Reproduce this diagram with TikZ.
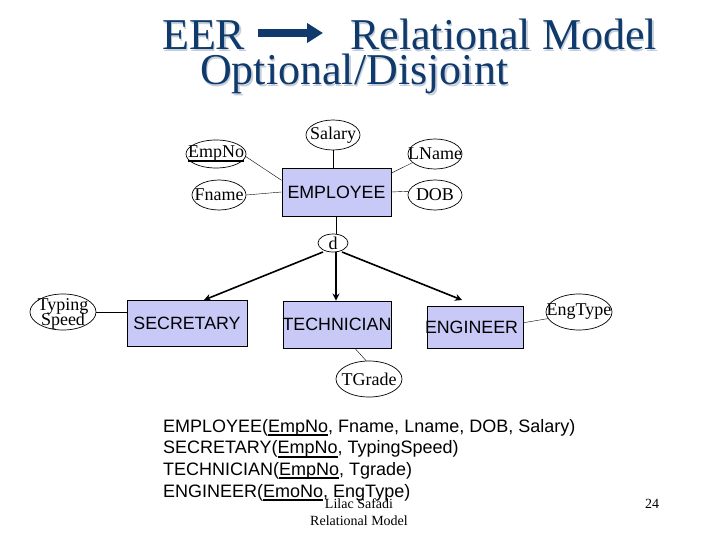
\documentclass[tikz,border=0pt]{standalone}
\usepackage{fontspec}
\setmainfont{Liberation Serif}
\setsansfont{Liberation Sans}
\usetikzlibrary{shapes.geometric,arrows.meta}
\definecolor{titleblue}{HTML}{0F3A6B}
\definecolor{titleshade}{HTML}{C6CEDA}
\definecolor{boxfill}{HTML}{C9C9F7}
\newcommand{\keyline}[1]{\setbox0\hbox{#1}\rlap{\rule[-4pt]{\wd0}{2pt}}\box0}
\newcommand{\shadetext}[1]{\rlap{\kern1.5pt\raisebox{-1.5pt}{\textcolor{titleshade}{#1}}}#1}
\newcommand{\fit}[1]{\makebox[0pt]{#1}}
\tikzset{
  attr/.style={ellipse,draw,line width=.7pt,inner sep=0pt,font=\fontsize{18}{18}\selectfont},
  entity/.style={rectangle,draw,line width=.9pt,fill=boxfill,inner sep=0pt,font=\sffamily\fontsize{17.8}{17.8}\selectfont},
  headline/.style={anchor=base west,inner sep=0pt,text=titleblue,font=\fontsize{44}{44}\selectfont},
  relation/.style={anchor=base west,inner sep=0pt,font=\sffamily\fontsize{18}{18}\selectfont},
  footer/.style={anchor=base,inner sep=0pt,font=\fontsize{14}{14}\selectfont},
  isa/.style={line width=1.6pt,-{Stealth[length=7pt,width=7pt]}}
}
\begin{document}
\begin{tikzpicture}[x=1pt,y=-1pt]
\useasboundingbox (0,0) rectangle (720,540);

\node[headline] (tEER) at (162,50) {\shadetext{EER}};
\node[headline] (tModel) at (350,50) {\shadetext{Relational Model}};
\node[headline] (tOptional) at (200,85) {\shadetext{Optional/Disjoint}};
\coordinate (tArrowA) at (258,33);
\coordinate (tArrowB) at (323,33);
\draw[line width=8pt,titleblue,-{Triangle[length=16pt,width=19pt]}] (tArrowA) -- (tArrowB);

\node[entity,minimum width=109pt,minimum height=48pt] (EMPLOYEE) at (336.5,192) {\fit{EMPLOYEE}};
\node[entity,minimum width=120pt,minimum height=46pt] (SECRETARY) at (187,323) {\fit{SECRETARY}};
\node[entity,minimum width=108pt,minimum height=47pt] (TECHNICIAN) at (337,324.5) {\fit{TECHNICIAN}};
\node[entity,minimum width=96pt,minimum height=42pt] (ENGINEER) at (475,327) {\fit{\kern-7pt ENGINEER}};

\node[attr,minimum width=54pt,minimum height=30pt] (Salary) at (333,135) {\fit{\raisebox{-2pt}{Salary}}};
\node[attr,minimum width=60pt,minimum height=28pt] (EmpNo) at (216,154) {\fit{\keyline{EmpNo}}};
\node[attr,minimum width=54pt,minimum height=30pt] (Fname) at (219,195) {\fit{Fname}};
\node[attr,minimum width=54pt,minimum height=30pt] (LName) at (435,154) {\fit{LName}};
\node[attr,minimum width=54pt,minimum height=30pt] (DOB) at (435,195) {\fit{DOB}};
\node[attr,minimum width=30pt,minimum height=18pt] (disjoint) at (333,243) {\fit{d}};
\node[attr,minimum width=66pt,minimum height=36pt] (TypingSpeed) at (63,312) {\fit{\smash{\raisebox{-7pt}{\begin{tabular}[c]{@{}c@{}}Typing\\[-3pt]Speed\end{tabular}}}}};
\node[attr,minimum width=66pt,minimum height=36pt] (EngType) at (579,312) {\fit{\raisebox{-3pt}{EngType}}};
\node[attr,minimum width=66pt,minimum height=36pt] (TGrade) at (369,379) {\fit{TGrade}};

\draw (Salary.south) -- (Salary.south |- EMPLOYEE.north);
\draw (EmpNo.-5) -- (EMPLOYEE.168);
\draw (Fname.east) -- (EMPLOYEE.west);
\draw (LName.201) -- (EMPLOYEE.19);
\draw (EMPLOYEE.east) -- (DOB.172);
\draw[line width=.9pt] (EMPLOYEE.south) -- (EMPLOYEE.south |- disjoint.north);
\draw (TypingSpeed.east) -- (TypingSpeed.east -| SECRETARY.west);
\draw (TECHNICIAN.-53) -- (TGrade.99);
\draw (ENGINEER.5) -- (EngType.192);

\coordinate (tSecFrom) at (323,252);
\coordinate (tTechFrom) at (336,252);
\coordinate (tEngFrom) at (342,252);
\coordinate (tEngTo) at (462,300);
\coordinate (tSecTo) at (204,300);
\draw[isa] (tSecFrom) -- (tSecTo);
\draw[isa] (tTechFrom) -- (tTechFrom |- TECHNICIAN.north);
\draw[isa] (tEngFrom) -- (tEngTo);

\node[relation] (rEmployee) at (163,432) {EMPLOYEE(\keyline{EmpNo}, Fname, Lname, DOB, Salary)};
\node[relation] (rSecretary) at (163,453.5) {SECRETARY(\keyline{EmpNo}, TypingSpeed)};
\node[relation] (rTechnician) at (163,475) {TECHNICIAN(\keyline{EmpNo}, Tgrade)};
\node[relation] (rEngineer) at (163,497) {ENGINEER(\keyline{EmoNo}, EngType)};

\node[footer] (fAuthor) at (359,508) {Lilac Safadi};
\node[footer] (fTopic) at (359,525) {Relational Model};
\node[footer] (fPage) at (652,508) {24};
\end{tikzpicture}
\end{document}
